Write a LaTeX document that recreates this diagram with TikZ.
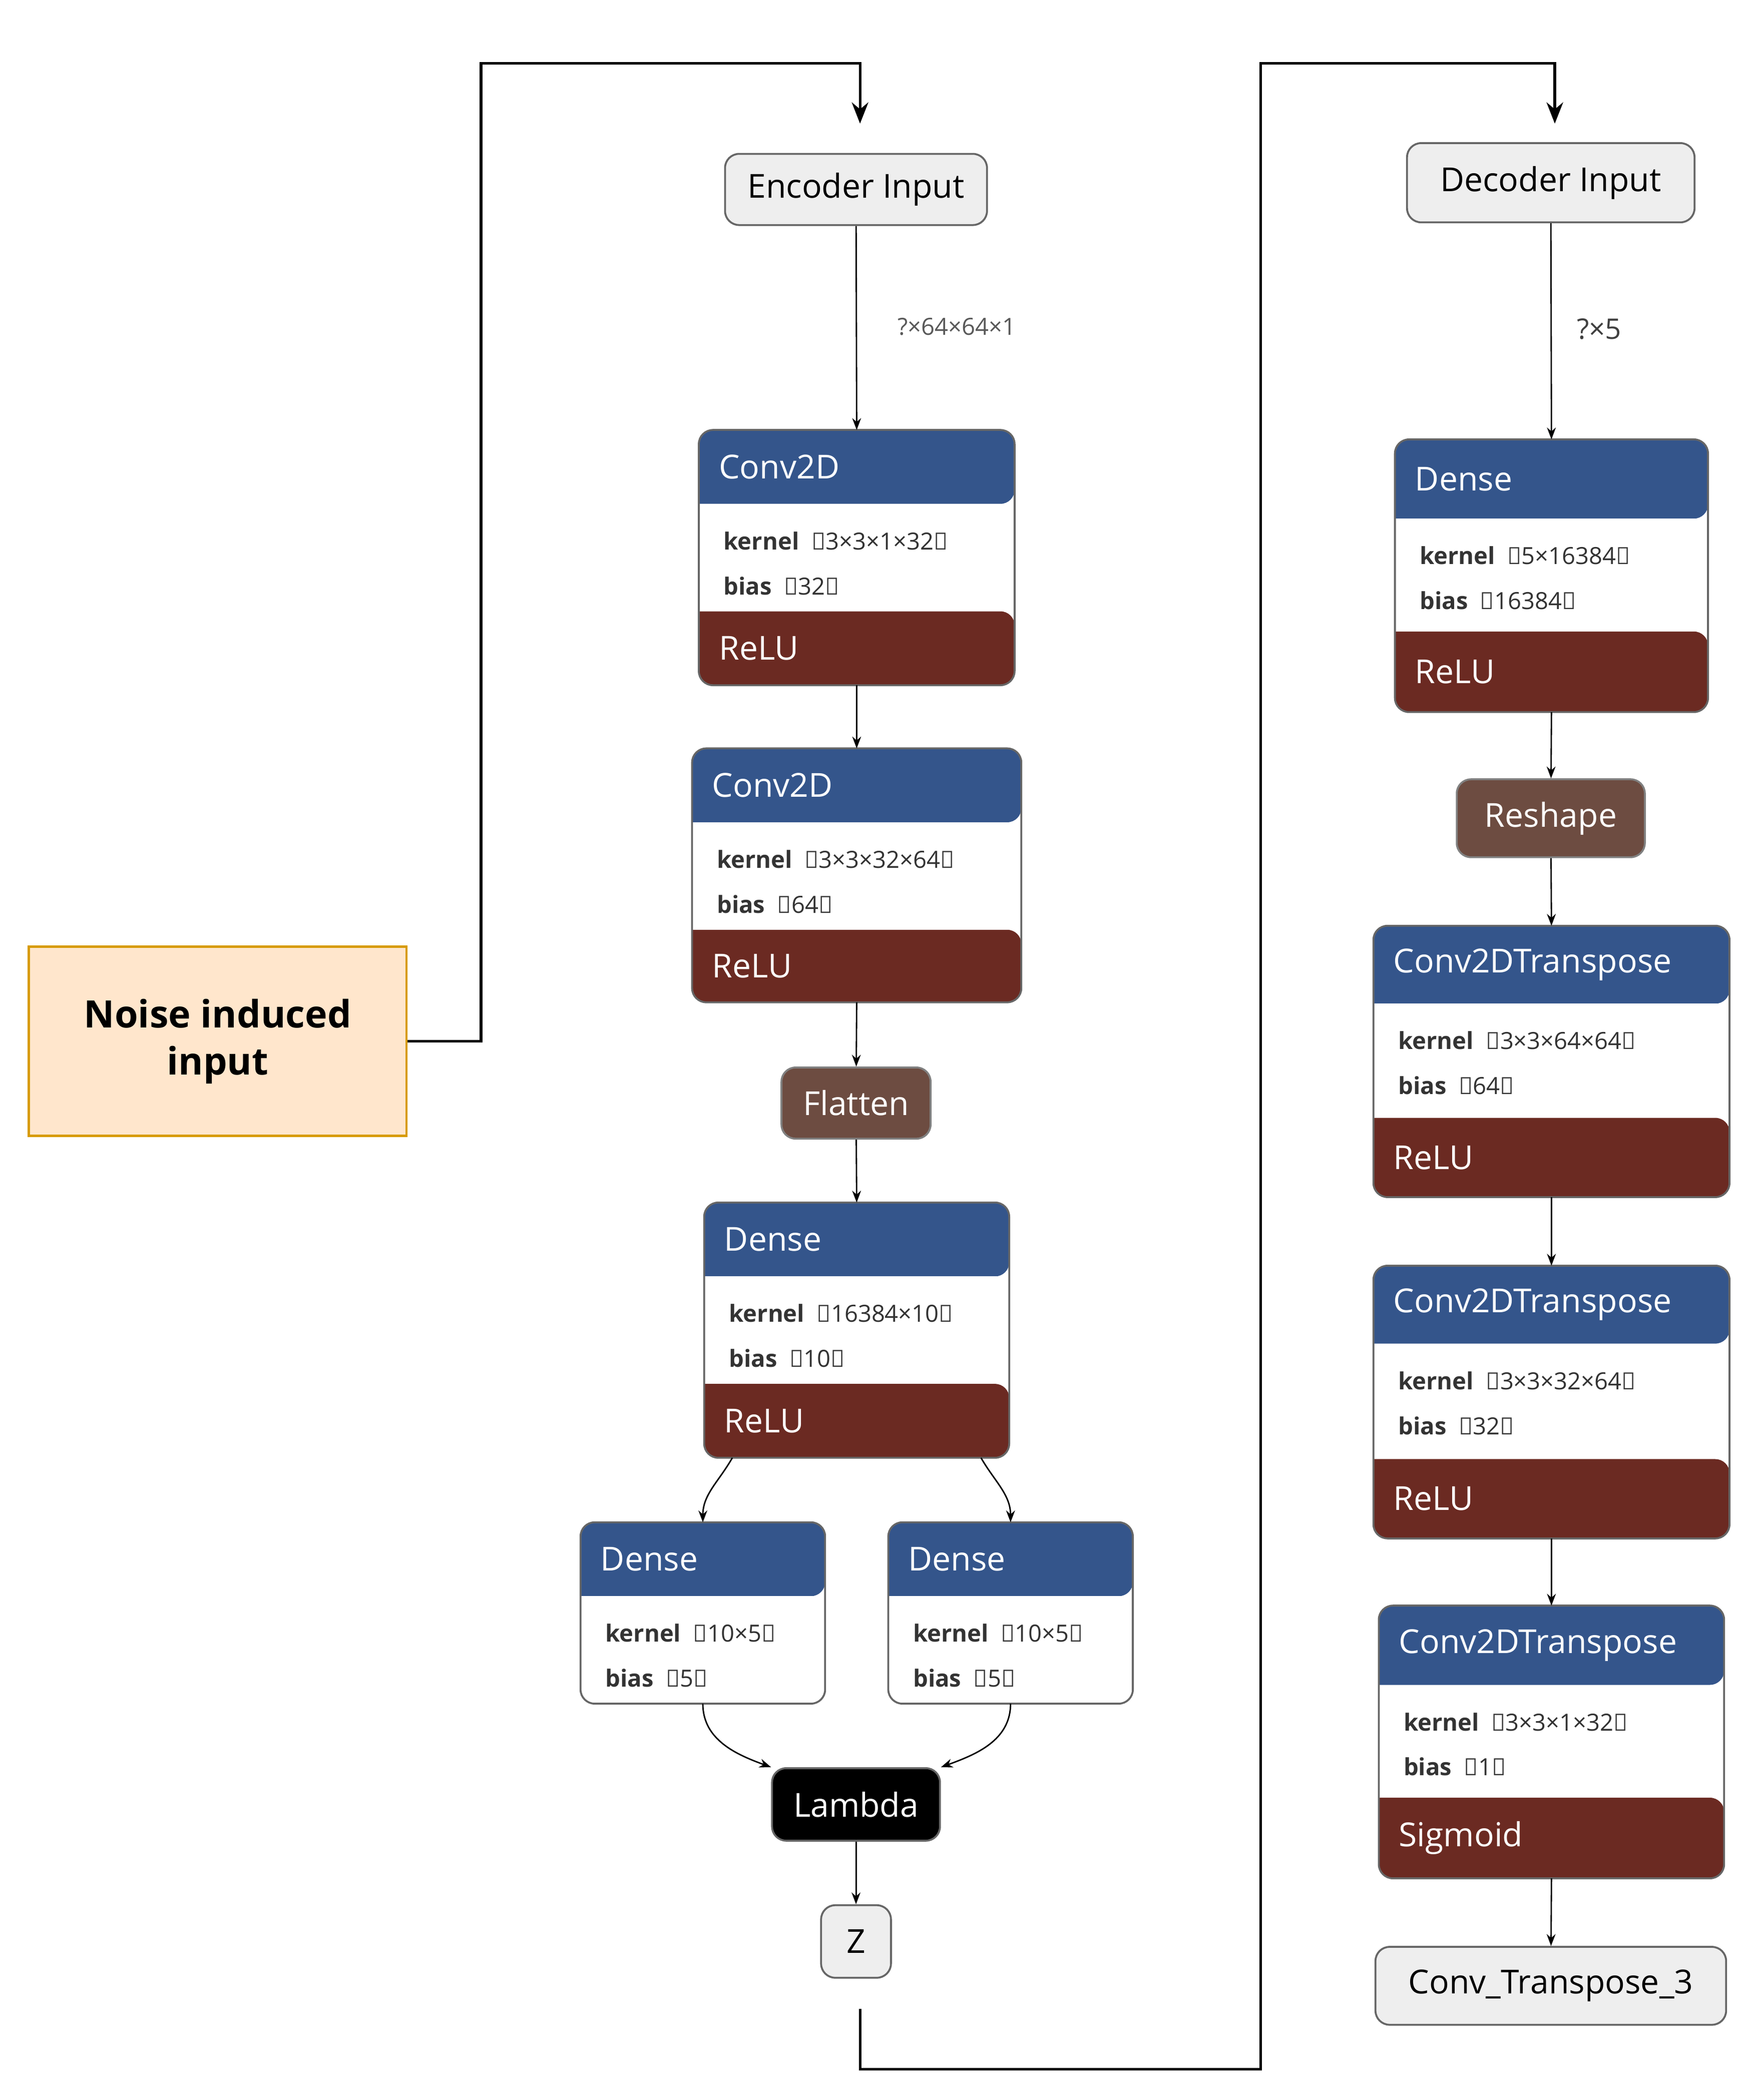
\documentclass[tikz,border=0pt]{standalone}
\usepackage{fontspec}
\setmainfont{Open Sans}
\usetikzlibrary{arrows.meta}
\definecolor{hb}{HTML}{34558B}
\definecolor{ar}{HTML}{6B2A22}
\definecolor{br}{HTML}{6D4C41}
\definecolor{gf}{HTML}{EEEEEE}
\definecolor{nf}{HTML}{FFE6CC}
\definecolor{ns}{HTML}{D79B00}
\tikzset{
 ln/.style={draw=black!75, line width=0.6pt},
 ht/.style={anchor=west, text=white, font=\fontsize{14}{16}\selectfont},
 bt/.style={anchor=west, text=black!80, font=\fontsize{10}{12}\selectfont},
 pill/.style={draw=black!60, line width=0.8pt, rounded corners=6pt, font=\fontsize{14}{16}\selectfont, minimum height=0.2cm},
 con/.style={line width=0.6pt, -{Stealth[length=5pt]}},
 big/.style={line width=1.1pt},
 bigar/.style={line width=1.1pt, -{Stealth[length=9pt,width=7pt]}}
}
% block: name x1 y1 x2 y2 hy wy title kernel bias act
\newcommand{\blk}[8]{%
 \fill[hb,rounded corners=6pt] (#2,#6) -- (#2,#3) -- (#4,#3) -- (#4,#6) [sharp corners] -- cycle;
 \fill[white] (#2,#6) rectangle (#4,#7);
 \node[ht] at ([xshift=5pt]#2,{(#3+#6)/2}) {#8};
 \coordinate (#1-t) at ({(#2+#4)/2},#3);
 \coordinate (#1-b) at ({(#2+#4)/2},#5);
 \coordinate (#1-x1) at (#2,#6); \coordinate (#1-x2) at (#4,#7);
 \coordinate (#1-x3) at (#2,#5); \coordinate (#1-x4) at (#4,#5);
 \coordinate (#1-x5) at (#4,#3);
}
\newcommand{\body}[4]{% name kernel bias actlabel(empty=none)
 \node[bt] at ([xshift=7pt,yshift=-0.55cm]#1-x1) {\textbf{kernel}\ \ ⟨#2⟩};
 \node[bt] at ([xshift=7pt,yshift=-1.22cm]#1-x1) {\textbf{bias}\ \ ⟨#3⟩};
}
\newcommand{\act}[2]{% name act
 \fill[ar,rounded corners=6pt] (#1-x3|-#1-x2) -- (#1-x3) -- (#1-x4) -- (#1-x2) [sharp corners] -- cycle;
 \node[ht] at ([xshift=5pt]$(#1-x3)!0.5!(#1-x3|-#1-x2)$) {#2};
 \draw[black!60,line width=0.8pt,rounded corners=6pt] (#1-x3) rectangle (#1-x5);
}
\begin{document}
\begin{tikzpicture}[x=0.02cm,y=-0.02cm]
\useasboundingbox (0,0) rectangle (1300,1563);
\usetikzlibrary{calc}
% encoder input
\node[pill,fill=gf,minimum width=3.9cm,minimum height=1.06cm] (ein) at (637,141) {Encoder Input};
\node[text=black!65,font=\fontsize{10}{12}\selectfont] (lab1) at (712,243) {?×64×64×1};
\blk{c1}{520}{320}{755}{510}{375}{455}{Conv2D}
\body{c1}{3×3×1×32}{32}{} \act{c1}{ReLU}
\blk{c2}{515}{557}{760}{746}{612}{692}{Conv2D}
\body{c2}{3×3×32×64}{64}{} \act{c2}{ReLU}
\node[pill,fill=br,text=white,draw=black!50,minimum width=2.22cm,minimum height=1.06cm] (fl) at (637,821) {Flatten};
\blk{d1}{524}{895}{751}{1085}{950}{1030}{Dense}
\body{d1}{16384×10}{10}{} \act{d1}{ReLU}
\blk{dl}{432}{1133}{614}{1268}{1188}{1268}{Dense}
\body{dl}{10×5}{5}{}
\draw[black!60,line width=0.8pt,rounded corners=6pt] (432,1268) rectangle (614,1133);
\blk{dr}{661}{1133}{843}{1268}{1188}{1268}{Dense}
\body{dr}{10×5}{5}{}
\draw[black!60,line width=0.8pt,rounded corners=6pt] (661,1268) rectangle (843,1133);
\node[pill,fill=black,text=white,minimum width=2.5cm,minimum height=1.08cm] (lam) at (637,1343) {Lambda};
\node[pill,fill=gf,minimum width=1.04cm,minimum height=1.08cm] (z) at (637,1445) {Z};
% noise
\node[draw=ns,fill=nf,line width=1pt,minimum width=5.62cm,minimum height=2.82cm,align=center,font=\fontsize{16}{20}\selectfont\bfseries] (noise) at (162,775) {Noise induced\\input};
% decoder
\node[pill,fill=gf,minimum width=4.28cm,minimum height=1.18cm] (din) at (1154,136) {Decoder Input};
\node[text=black!75,font=\fontsize{12}{14}\selectfont] (lab2) at (1190,245) {?×5};
\blk{e1}{1038}{327}{1271}{530}{386}{470}{Dense}
\body{e1}{5×16384}{16384}{} \act{e1}{ReLU}
\node[pill,fill=br,text=white,draw=black!50,minimum width=2.8cm,minimum height=1.16cm] (rs) at (1154,609) {Reshape};
\blk{t1}{1022}{689}{1287}{891}{747}{832}{Conv2DTranspose}
\body{t1}{3×3×64×64}{64}{} \act{t1}{ReLU}
\blk{t2}{1022}{942}{1287}{1145}{1000}{1086}{Conv2DTranspose}
\body{t2}{3×3×32×64}{32}{} \act{t2}{ReLU}
\blk{t3}{1026}{1195}{1283}{1398}{1254}{1338}{Conv2DTranspose}
\body{t3}{3×3×1×32}{1}{} \act{t3}{Sigmoid}
\node[pill,fill=gf,minimum width=5.22cm,minimum height=1.16cm] (out) at (1154,1478) {Conv\_Transpose\_3};
% connectors
\draw[con] (ein) -- (c1-t);
\draw[con] (c1-b) -- (c2-t);
\draw[con] (c2-b) -- (fl);
\draw[con] (fl) -- (d1-t);
\draw[con] (545,1085) to[out=240,in=90] (dl-t);
\draw[con] (730,1085) to[out=300,in=90] (dr-t);
\draw[con] (dl-b) to[out=270,in=160] (lam.north west);
\draw[con] (dr-b) to[out=270,in=20] (lam.north east);
\draw[con] (lam) -- (z);
\draw[con] (din) -- (e1-t);
\draw[con] (e1-b) -- (rs);
\draw[con] (rs) -- (t1-t);
\draw[con] (t1-b) -- (t2-t);
\draw[con] (t2-b) -- (t3-t);
\draw[con] (t3-b) -- (out);
\coordinate (a1) at (640,92);
\coordinate (a2) at (640,1495);
\coordinate (a3) at (1157,92);
\draw[bigar] (noise.east) -- (358,775) -- (358,47) -- (640,47) -- (a1);
\draw[bigar] (a2) -- (640,1540) -- (938,1540) -- (938,47) -- (1157,47) -- (a3);
\end{tikzpicture}
\end{document}
